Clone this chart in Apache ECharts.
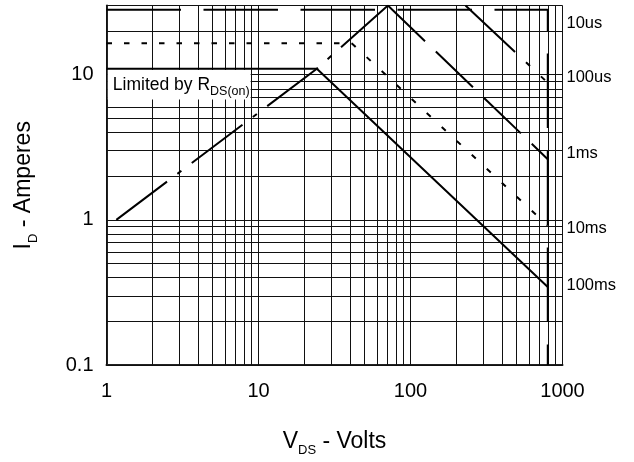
<!DOCTYPE html>
<html><head><meta charset="utf-8">
<script src="https://cdn.jsdelivr.net/npm/echarts@6/dist/echarts.min.js"></script>
<style>html,body{margin:0;padding:0;background:#fff}#c{width:634px;height:462px}</style>
</head><body><div id="c"></div>
<script>
// ---- axis ticks / labels ----
const xTickValues = [1, 10, 100, 1000];
const xTickLabels = ['1', '10', '100', '1000'];
const yTickValues = [0.1, 1, 10];
const yTickLabels = ['0.1', '1', '10'];
// ---- grid line positions ----
const xGridValues = [1, 2, 3, 4, 5, 6, 7, 8, 9, 10, 20, 30, 40, 50, 60, 70, 80, 90, 100, 200, 300, 400, 500, 600, 700, 800, 900, 1000];
const yGridValues = [0.1, 0.2, 0.3, 0.4, 0.5, 0.6, 0.7, 0.8, 0.9, 1, 2, 3, 4, 5, 6, 7, 8, 9, 10, 20, 30];
// ---- curve labels (right side) ----
const curveNames = ['10us', '100us', '1ms', '10ms', '100ms'];
const curveLabelY = [22.4, 9.63, 2.87, 0.877, 0.356];
// ---- curves [V, A] ----
const rdsLimit = [[1.16, 1.0], [24.2, 11.0], [71, 30]];
const curve10us = [[1, 28], [800, 28], [800, 0.1]];
const curve100us = [[230, 30], [800, 8.8]];
const curve1ms = [[71, 30], [800, 2.62]];
const curve10msFlat = [[1, 16.5], [41, 16.5]];
const curve10msSlope = [[41, 16.5], [800, 0.914]];
const curve100ms = [[1, 11], [24.2, 11], [800, 0.345]];
// ---- annotation ----
const annotationMain = 'Limited by R';
const annotationSub = 'DS(on)';
const annotationAt = [1, 8.53];

const FONT = 'Liberation Sans, Arial, Helvetica, sans-serif';

function tickFormatter(values, labels) {
  return function (v) {
    const i = values.findIndex(t => Math.abs(Math.log10(v) - Math.log10(t)) < 1e-6);
    return i >= 0 ? labels[i] : '';
  };
}

function curve(data, type, z) {
  return {
    type: 'line', data: data, symbol: 'none', silent: true, animation: false, z: z || 4,
    lineStyle: { color: '#000', width: 2, type: type, cap: 'butt' }
  };
}

const chart = echarts.init(document.getElementById('c'), null, { renderer: 'canvas' });
chart.setOption({
  backgroundColor: '#fff',
  animation: false,
  grid: { left: 106.5, right: 71.5, top: 5.5, bottom: 95.5, containLabel: false },
  xAxis: {
    type: 'log', logBase: 10, min: 1, max: 1000,
    name: '{a|V}{b|DS}{a| - Volts}', nameLocation: 'middle', nameGap: 61,
    nameTextStyle: {
      rich: {
        a: { fontSize: 23, lineHeight: 31, fontFamily: FONT, color: '#000' },
        b: { fontSize: 13, lineHeight: 13, verticalAlign: 'bottom', fontFamily: FONT, color: '#000' }
      }
    },
    axisLine: { show: true, lineStyle: { color: '#222', width: 2 } },
    axisTick: { show: false },
    splitLine: { show: false },
    axisLabel: { fontSize: 20, color: '#000', fontFamily: FONT, margin: 16, formatter: tickFormatter(xTickValues, xTickLabels) }
  },
  yAxis: {
    type: 'log', logBase: 10, min: 0.1, max: 30,
    name: '{a|I}{b|D}{a| - Amperes}', nameLocation: 'middle', nameGap: 67, nameRotate: 90,
    nameTextStyle: {
      rich: {
        a: { fontSize: 23, lineHeight: 31, fontFamily: FONT, color: '#000' },
        b: { fontSize: 13, lineHeight: 16, verticalAlign: 'bottom', fontFamily: FONT, color: '#000' }
      }
    },
    axisLine: { show: true, lineStyle: { color: '#222', width: 2 } },
    axisTick: { show: false },
    splitLine: { show: false },
    axisLabel: { fontSize: 20, color: '#000', fontFamily: FONT, margin: 13, formatter: tickFormatter(yTickValues, yTickLabels) }
  },
  series: [
    {
      type: 'line', data: [[1, 0.1]], symbol: 'none', silent: true, z: 1,
      lineStyle: { opacity: 0 },
      markLine: {
        silent: true, symbol: ['none', 'none'], animation: false, z: 1,
        label: { show: false }, emphasis: { disabled: true },
        lineStyle: { color: '#111', width: 1, type: 'solid' },
        data: xGridValues.map(v => ({ xAxis: v })).concat(yGridValues.map(v => ({ yAxis: v })))
      },
      markPoint: {
        silent: true, animation: false, z: 3, symbol: 'circle', symbolSize: 0,
        itemStyle: { color: 'rgba(0,0,0,0)' },
        data: [{
          coord: annotationAt,
          label: {
            show: true, position: 'right', distance: 1.3,
            formatter: '{a|' + annotationMain + '}{b|' + annotationSub + '}',
            backgroundColor: '#fff', padding: [2, 1, 1.3, 5],
            rich: {
              a: { fontSize: 17.5, lineHeight: 26, fontFamily: FONT, color: '#000' },
              b: { fontSize: 12.5, lineHeight: 10, verticalAlign: 'bottom', fontFamily: FONT, color: '#000' }
            }
          }
        }].concat(curveNames.map((n, i) => ({
          coord: [1000, curveLabelY[i]],
          label: { show: true, position: 'right', distance: 4, formatter: n, fontSize: 16.5, fontFamily: FONT, color: '#000' }
        })))
      }
    },
    curve(curve10us, [74.5, 22.5]),
    curve(rdsLimit, [63.5, 13, 5, 13]),
    curve(curve1ms, [51.5, 15]),
    curve(curve100us, [68, 15, 5.5, 15, 5.5, 15]),
    curve(curve10msFlat, [5.5, 12]),
    curve(curve10msSlope, [5.5, 15]),
    curve(curve100ms, 'solid', 5)
  ]
});
</script>
</body></html>
